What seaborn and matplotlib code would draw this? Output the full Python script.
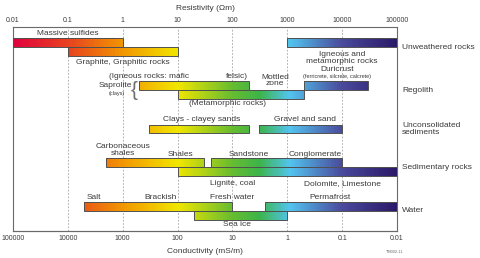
import numpy as np
import matplotlib
matplotlib.use("Agg")
import matplotlib.pyplot as plt
import matplotlib.transforms as mtransforms
from matplotlib.colors import LinearSegmentedColormap, Normalize
from matplotlib.ticker import FixedLocator, FuncFormatter, NullLocator
import seaborn as sns

# rock / material groups (rows)
groups = ["Unweathered rocks", "Regolith", "Unconsolidated\nsediments",
          "Sedimentary rocks", "Water"]

# resistivity ranges (ohm.m) for every bar
bar_group = [0, 0, 0, 1, 1, 1, 2, 2, 3, 3, 3, 4, 4, 4]
bar_lane = [-1, 1, -1, -1, 1, -1, 0, 0, -1, -1, 1, -1, -1, 1]
bar_low = [0.01, 0.1, 1000, 2, 10, 2000, 3, 300, 0.5, 40, 10, 0.2, 400, 20]
bar_high = [1, 10, 100000, 200, 2000, 30000, 200, 10000, 30, 10000, 100000, 100, 100000, 1000]

# names written next to the bars
label_text = ["Massive sulfides", "Graphite, Graphitic rocks", "Igneous and\nmetamorphic rocks",
              "(Igneous rocks: mafic", "felsic)", "(Metamorphic rocks)", "Mottled\nzone",
              "Duricrust", "Clays - clayey sands", "Gravel and sand",
              "Carbonaceous\nshales", "Shales", "Sandstone", "Conglomerate",
              "Lignite, coal", "Dolomite, Limestone",
              "Salt", "Brackish", "Fresh water", "Permafrost", "Sea ice"]
label_x = [0.1, 1, 10000, 3, 120, 80, 600, 8000, 28, 2100,
           1, 11.5, 200, 3200, 100, 10000, 0.3, 5, 100, 6000, 120]
label_group = [0, 0, 0, 1, 1, 1, 1, 1, 2, 2, 3, 3, 3, 3, 3, 3, 4, 4, 4, 4, 4]
label_dy = [-0.32, 0.37, 0.26, -0.32, -0.32, 0.34, -0.23, -0.49, -0.22, -0.24,
            -0.41, -0.32, -0.32, -0.32, 0.39, 0.39, -0.34, -0.34, -0.34, -0.34, 0.34]

res_ticks = [0.01, 0.1, 1, 10, 100, 1000, 10000, 100000]
cond_ticks = [100000, 10000, 1000, 100, 10, 1, 0.1, 0.01]

group_pos = [0, 1.05, 2, 2.93, 4]
bar_h = 0.212
txt = "#3a3a3a"

sns.set_theme(style="white")
plt.rcParams["font.family"] = ["Liberation Sans", "DejaVu Sans"]

cmap = LinearSegmentedColormap.from_list("res", [
    (0.0, "#e2003c"), (1 / 7, "#e7421f"), (2 / 7, "#f29600"), (3 / 7, "#f1e600"),
    (4 / 7, "#66bc30"), (4.5 / 7, "#3cb44a"), (5.05 / 7, "#52c4ef"),
    (6 / 7, "#4a4a9c"), (1.0, "#2b1868")])
norm = Normalize(-2, 5)

fig = plt.figure(figsize=(4.8, 2.58), dpi=100)
ax = fig.add_axes([13 / 480, 1 - 231 / 258, 384 / 480, 204 / 258])
ax.set_xscale("log")
ax.set_xlim(0.01, 100000)
ax.set_ylim(4.488, -0.488)

for r in res_ticks[1:-1]:
    ax.axvline(r, color="#a0a0a0", lw=0.6, ls=(0, (2, 2)), zorder=0)

for g, lane, lo, hi in zip(bar_group, bar_lane, bar_low, bar_high):
    yc = group_pos[g] + lane * bar_h / 2
    xs = np.logspace(np.log10(lo), np.log10(hi), 150)
    mids = (np.log10(xs[:-1]) + np.log10(xs[1:])) / 2
    ax.pcolormesh(xs, [yc - bar_h / 2, yc + bar_h / 2], mids[None, :],
                  cmap=cmap, norm=norm, shading="flat", zorder=2)
    ax.barh(yc, hi - lo, left=lo, height=bar_h, fill=False,
            edgecolor="#505050", lw=0.7, zorder=3)

for t, x, g, dy in zip(label_text, label_x, label_group, label_dy):
    ax.text(x, group_pos[g] + dy, t, ha="center", va="center", fontsize=6,
            color=txt, linespacing=0.95, zorder=4)

# small extras of the regolith row
ax.text(8000, group_pos[1] - 0.32, "(ferricrete, silcrete, calcrete)", ha="center",
        va="center", fontsize=4, color=txt)
ax.text(1.45, group_pos[1] - 0.1, "Saprolite", ha="right", va="center", fontsize=6, color=txt)
ax.text(0.78, group_pos[1] + 0.09, "(clays)", ha="center", va="center", fontsize=4, color=txt)
ax.text(1.62, group_pos[1] + 0.02, "{", ha="center", va="center", fontsize=15,
        color="#707070", fontweight="light")

# group names on the right
trans = mtransforms.blended_transform_factory(ax.transAxes, ax.transData)
for g, name in enumerate(groups):
    ax.text(1.013, group_pos[g], name, transform=trans, ha="left", va="center",
            fontsize=6, color=txt, linespacing=1.0)

# top axis: resistivity
ax.yaxis.set_major_locator(NullLocator())
ax.xaxis.tick_top()
ax.xaxis.set_major_locator(FixedLocator(res_ticks))
ax.xaxis.set_minor_locator(NullLocator())
ax.xaxis.set_major_formatter(FuncFormatter(lambda v, p: f"{v:g}"))
ax.tick_params(axis="x", length=0, pad=2.5, labelsize=5, colors=txt)
ax.set_title("Resistivity (\u03a9m)", fontsize=6, color=txt, pad=12)

# bottom axis: conductivity = 1000 / resistivity
sec = ax.secondary_xaxis("bottom", functions=(lambda r: 1000 / r, lambda c: 1000 / c))
sec.xaxis.set_major_locator(FixedLocator(cond_ticks))
sec.xaxis.set_minor_locator(NullLocator())
sec.xaxis.set_major_formatter(FuncFormatter(lambda v, p: f"{v:g}"))
sec.tick_params(axis="x", length=0, pad=3, labelsize=5, colors=txt)
sec.set_xlabel("Conductivity (mS/m)", fontsize=6, color=txt, labelpad=4)
sec.spines["bottom"].set_color("#6a6a6a")
sec.spines["bottom"].set_linewidth(0.8)

for side in ["left", "right", "top", "bottom"]:
    ax.spines[side].set_visible(True)
    ax.spines[side].set_color("#6a6a6a")
    ax.spines[side].set_linewidth(0.8)

fig.text(395 / 480, 1 - 252 / 258, "TM002-11", fontsize=2.8, color="#666666",
         ha="center", va="center")

fig.savefig("out.png", dpi=100)
